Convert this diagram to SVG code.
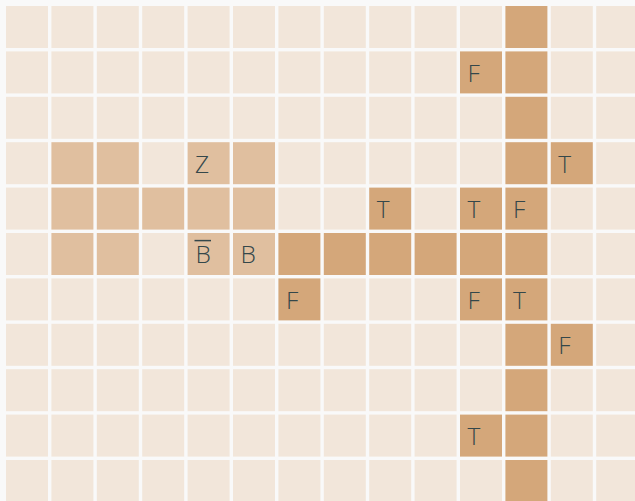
<svg xmlns="http://www.w3.org/2000/svg" width="635" height="501" viewBox="0 0 635 501">
<style>
.l{fill:#f2e6da}
.m{fill:#e0bf9f}
.d{fill:#d4a77a}
text{font-family:"Open Sans","Noto Sans",sans-serif;font-weight:300;font-size:24.5px;fill:#34474a}
.bar{stroke:#34474a;stroke-width:1.5}
</style>
<rect width="635" height="501" fill="#f9f9f9"/>
<defs>
<rect id="c" width="42" height="42"/>
</defs>
<g id="grid">
<g class="l">
<use href="#c" x="6" y="6"/><use href="#c" x="51.4" y="6"/><use href="#c" x="96.8" y="6"/><use href="#c" x="142.2" y="6"/><use href="#c" x="187.6" y="6"/><use href="#c" x="233" y="6"/><use href="#c" x="278.4" y="6"/><use href="#c" x="323.8" y="6"/><use href="#c" x="369.2" y="6"/><use href="#c" x="414.6" y="6"/><use href="#c" x="460" y="6"/><use href="#c" x="550.8" y="6"/><use href="#c" x="596.2" y="6"/>
<use href="#c" x="6" y="51.4"/><use href="#c" x="51.4" y="51.4"/><use href="#c" x="96.8" y="51.4"/><use href="#c" x="142.2" y="51.4"/><use href="#c" x="187.6" y="51.4"/><use href="#c" x="233" y="51.4"/><use href="#c" x="278.4" y="51.4"/><use href="#c" x="323.8" y="51.4"/><use href="#c" x="369.2" y="51.4"/><use href="#c" x="414.6" y="51.4"/><use href="#c" x="550.8" y="51.4"/><use href="#c" x="596.2" y="51.4"/>
<use href="#c" x="6" y="96.8"/><use href="#c" x="51.4" y="96.8"/><use href="#c" x="96.8" y="96.8"/><use href="#c" x="142.2" y="96.8"/><use href="#c" x="187.6" y="96.8"/><use href="#c" x="233" y="96.8"/><use href="#c" x="278.4" y="96.8"/><use href="#c" x="323.8" y="96.8"/><use href="#c" x="369.2" y="96.8"/><use href="#c" x="414.6" y="96.8"/><use href="#c" x="460" y="96.8"/><use href="#c" x="550.8" y="96.8"/><use href="#c" x="596.2" y="96.8"/>
<use href="#c" x="6" y="142.2"/><use href="#c" x="142.2" y="142.2"/><use href="#c" x="278.4" y="142.2"/><use href="#c" x="323.8" y="142.2"/><use href="#c" x="369.2" y="142.2"/><use href="#c" x="414.6" y="142.2"/><use href="#c" x="460" y="142.2"/><use href="#c" x="596.2" y="142.2"/>
<use href="#c" x="6" y="187.6"/><use href="#c" x="278.4" y="187.6"/><use href="#c" x="323.8" y="187.6"/><use href="#c" x="414.6" y="187.6"/><use href="#c" x="550.8" y="187.6"/><use href="#c" x="596.2" y="187.6"/>
<use href="#c" x="6" y="233"/><use href="#c" x="142.2" y="233"/><use href="#c" x="550.8" y="233"/><use href="#c" x="596.2" y="233"/>
<use href="#c" x="6" y="278.4"/><use href="#c" x="51.4" y="278.4"/><use href="#c" x="96.8" y="278.4"/><use href="#c" x="142.2" y="278.4"/><use href="#c" x="187.6" y="278.4"/><use href="#c" x="233" y="278.4"/><use href="#c" x="323.8" y="278.4"/><use href="#c" x="369.2" y="278.4"/><use href="#c" x="414.6" y="278.4"/><use href="#c" x="550.8" y="278.4"/><use href="#c" x="596.2" y="278.4"/>
<use href="#c" x="6" y="323.8"/><use href="#c" x="51.4" y="323.8"/><use href="#c" x="96.8" y="323.8"/><use href="#c" x="142.2" y="323.8"/><use href="#c" x="187.6" y="323.8"/><use href="#c" x="233" y="323.8"/><use href="#c" x="278.4" y="323.8"/><use href="#c" x="323.8" y="323.8"/><use href="#c" x="369.2" y="323.8"/><use href="#c" x="414.6" y="323.8"/><use href="#c" x="460" y="323.8"/><use href="#c" x="596.2" y="323.8"/>
<use href="#c" x="6" y="369.2"/><use href="#c" x="51.4" y="369.2"/><use href="#c" x="96.8" y="369.2"/><use href="#c" x="142.2" y="369.2"/><use href="#c" x="187.6" y="369.2"/><use href="#c" x="233" y="369.2"/><use href="#c" x="278.4" y="369.2"/><use href="#c" x="323.8" y="369.2"/><use href="#c" x="369.2" y="369.2"/><use href="#c" x="414.6" y="369.2"/><use href="#c" x="460" y="369.2"/><use href="#c" x="550.8" y="369.2"/><use href="#c" x="596.2" y="369.2"/>
<use href="#c" x="6" y="414.6"/><use href="#c" x="51.4" y="414.6"/><use href="#c" x="96.8" y="414.6"/><use href="#c" x="142.2" y="414.6"/><use href="#c" x="187.6" y="414.6"/><use href="#c" x="233" y="414.6"/><use href="#c" x="278.4" y="414.6"/><use href="#c" x="323.8" y="414.6"/><use href="#c" x="369.2" y="414.6"/><use href="#c" x="414.6" y="414.6"/><use href="#c" x="550.8" y="414.6"/><use href="#c" x="596.2" y="414.6"/>
<use href="#c" x="6" y="460"/><use href="#c" x="51.4" y="460"/><use href="#c" x="96.8" y="460"/><use href="#c" x="142.2" y="460"/><use href="#c" x="187.6" y="460"/><use href="#c" x="233" y="460"/><use href="#c" x="278.4" y="460"/><use href="#c" x="323.8" y="460"/><use href="#c" x="369.2" y="460"/><use href="#c" x="414.6" y="460"/><use href="#c" x="460" y="460"/><use href="#c" x="550.8" y="460"/><use href="#c" x="596.2" y="460"/>
</g>
<g class="m">
<use href="#c" x="51.4" y="142.2"/><use href="#c" x="96.8" y="142.2"/><use href="#c" x="187.6" y="142.2"/><use href="#c" x="233" y="142.2"/>
<use href="#c" x="51.4" y="187.6"/><use href="#c" x="96.8" y="187.6"/><use href="#c" x="142.2" y="187.6"/><use href="#c" x="187.6" y="187.6"/><use href="#c" x="233" y="187.6"/>
<use href="#c" x="51.4" y="233"/><use href="#c" x="96.8" y="233"/><use href="#c" x="187.6" y="233"/><use href="#c" x="233" y="233"/>
</g>
<g class="d">
<use href="#c" x="505.4" y="6"/>
<use href="#c" x="460" y="51.4"/><use href="#c" x="505.4" y="51.4"/>
<use href="#c" x="505.4" y="96.8"/>
<use href="#c" x="505.4" y="142.2"/><use href="#c" x="550.8" y="142.2"/>
<use href="#c" x="369.2" y="187.6"/><use href="#c" x="460" y="187.6"/><use href="#c" x="505.4" y="187.6"/>
<use href="#c" x="278.4" y="233"/><use href="#c" x="323.8" y="233"/><use href="#c" x="369.2" y="233"/><use href="#c" x="414.6" y="233"/><use href="#c" x="460" y="233"/><use href="#c" x="505.4" y="233"/>
<use href="#c" x="278.4" y="278.4"/><use href="#c" x="460" y="278.4"/><use href="#c" x="505.4" y="278.4"/>
<use href="#c" x="505.4" y="323.8"/><use href="#c" x="550.8" y="323.8"/>
<use href="#c" x="505.4" y="369.2"/>
<use href="#c" x="460" y="414.6"/><use href="#c" x="505.4" y="414.6"/>
<use href="#c" x="505.4" y="460"/>
</g>
</g>
<g id="labels">
<text x="467.5" y="81.9">F</text>
<text x="195" y="172.7">Z</text>
<text x="558.3" y="172.7">T</text>
<text x="376.7" y="218.1">T</text>
<text x="467.5" y="218.1">T</text>
<text x="512.9" y="218.1">F</text>
<g id="bbar"><text x="195.5" y="263.3">B</text><line class="bar" x1="194.5" y1="240.6" x2="211" y2="240.6"/></g>
<text x="240.5" y="263.3">B</text>
<text x="285.9" y="308.9">F</text>
<text x="467.5" y="308.9">F</text>
<text x="512.9" y="308.9">T</text>
<text x="558.3" y="354.3">F</text>
<text x="467.5" y="445.1">T</text>
</g>
</svg>
